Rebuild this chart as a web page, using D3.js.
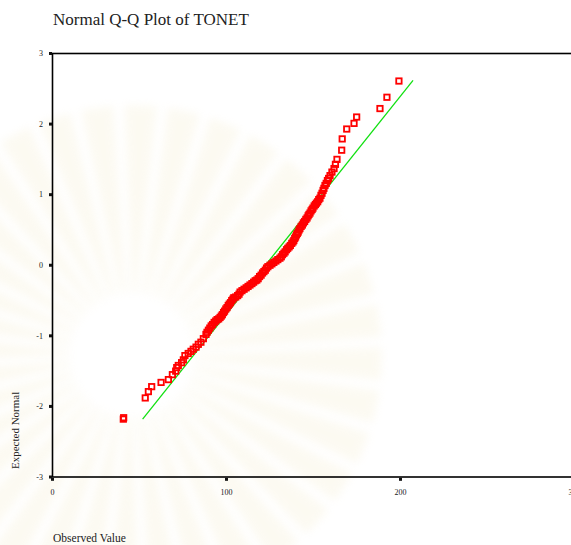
<!DOCTYPE html>
<html>
<head>
<meta charset="utf-8">
<title>Normal Q-Q Plot of TONET</title>
<script src="https://cdn.jsdelivr.net/npm/d3@7"></script>
<style>
  html, body { margin: 0; padding: 0; background: #fff; }
  svg { display: block; font-family: "Liberation Serif", "DejaVu Serif", serif; }
</style>
</head>
<body>
<svg id="chart" width="571" height="545"></svg>
<script>
var observed = [40.7, 40.9,
  53.3, 55.1, 57.0, 62.4, 66.6, 68.9, 70.8, 71.4, 72.3, 74.2, 75.2, 76.1, 78.0, 79.6, 80.9, 82.5, 83.8, 85.3, 86.7, 88.2,
  88.8, 89.6, 90.4, 91.2, 92.0, 92.9, 93.8, 94.6, 95.5, 96.3,
  97.0, 97.6, 98.3, 98.9, 99.6, 100.3, 101.0, 101.6, 102.3, 103.0, 103.7,
  104.2, 105.3, 106.4, 107.2, 107.8,
  108.9, 110.1, 111.3, 112.4, 113.5, 114.6, 115.6, 116.5, 117.4,
  118.2, 119.0, 119.9, 120.7, 121.5, 122.3, 123.0, 123.8, 125.0,
  126.1, 127.2, 128.4, 129.5, 130.7,
  131.5, 132.2, 133.0, 133.7, 134.5, 135.2, 136.0, 136.7, 137.5, 138.2,
  138.7, 139.2, 139.7, 140.2, 140.7, 141.2, 141.7, 142.2,
  142.9, 143.6, 144.2, 144.9, 145.6, 146.3,
  146.9, 147.4, 148.0, 148.6, 149.2, 149.7,
  150.4, 151.1, 151.7, 152.4, 153.0, 153.7,
  154.3, 154.9, 155.5, 156.0, 156.6,
  157.3, 158.0, 158.7, 159.5,
  160.6, 161.8, 162.6, 163.5,
  166.2, 166.5, 169.1, 173.3, 174.8, 188.2, 192.2, 199.1];
var expected = [-2.18, -2.16,
  -1.88, -1.79, -1.72, -1.66, -1.62, -1.55, -1.50, -1.45, -1.42, -1.38, -1.34, -1.28, -1.25, -1.22, -1.19, -1.16, -1.12, -1.09, -1.04, -0.98,
  -0.95, -0.92, -0.89, -0.86, -0.84, -0.81, -0.79, -0.77, -0.76, -0.74,
  -0.72, -0.70, -0.67, -0.65, -0.62, -0.60, -0.57, -0.55, -0.53, -0.50, -0.48,
  -0.46, -0.45, -0.43, -0.41, -0.38,
  -0.36, -0.34, -0.32, -0.30, -0.28, -0.26, -0.24, -0.22, -0.21,
  -0.19, -0.16, -0.14, -0.11, -0.09, -0.07, -0.04, -0.02, 0.00,
  0.02, 0.04, 0.06, 0.08, 0.10,
  0.12, 0.15, 0.17, 0.19, 0.22, 0.24, 0.26, 0.28, 0.31, 0.33,
  0.35, 0.38, 0.40, 0.43, 0.45, 0.47, 0.50, 0.52,
  0.55, 0.57, 0.60, 0.62, 0.65, 0.67,
  0.70, 0.72, 0.74, 0.77, 0.79, 0.81,
  0.84, 0.86, 0.88, 0.90, 0.93, 0.95,
  0.99, 1.02, 1.06, 1.09, 1.13,
  1.16, 1.20, 1.23, 1.27,
  1.32, 1.37, 1.43, 1.50,
  1.63, 1.79, 1.93, 2.01, 2.10, 2.22, 2.38, 2.61];

// reference line ends
var lineObserved = [51.8, 207.2];
var lineExpected = [-2.18, 2.62];

var xTicks = [0, 100, 200, 300];
var yTicks = [-3, -2, -1, 0, 1, 2, 3];

var svg = d3.select("#chart");

var x = d3.scaleLinear().domain([0, 300]).range([52.5, 574.5]);
var y = d3.scaleLinear().domain([-3, 3]).range([477, 53.5]);

// very faint watermark behind the plot
svg.append("defs").append("filter").attr("id", "soft")
    .append("feGaussianBlur").attr("stdDeviation", 4);
var wm = svg.append("g").attr("transform", "translate(132,355)")
    .attr("filter", "url(#soft)").attr("opacity", 0.3);
var rays = d3.range(36);
wm.selectAll("path.ray").data(rays).enter().append("path")
    .attr("class", "ray")
    .attr("d", function(d) {
        var a0 = d / 36 * 2 * Math.PI, a1 = a0 + 0.07;
        var r0 = 62, r1 = 250;
        return "M" + r0 * Math.cos(a0) + "," + r0 * Math.sin(a0) +
            "L" + r1 * Math.cos(a0 - 0.03) + "," + r1 * Math.sin(a0 - 0.03) +
            "L" + r1 * Math.cos(a1 + 0.03) + "," + r1 * Math.sin(a1 + 0.03) +
            "L" + r0 * Math.cos(a1) + "," + r0 * Math.sin(a1) + "Z";
    })
    .attr("fill", "#f6efd4");

// frame (right edge falls outside the picture)
svg.append("rect")
    .attr("x", x(0)).attr("y", y(3))
    .attr("width", x(300) - x(0)).attr("height", y(-3) - y(3))
    .attr("fill", "none").attr("stroke", "#000").attr("stroke-width", 1.6);

// tick squares
svg.selectAll("rect.yt").data(yTicks).enter().append("rect")
    .attr("class", "yt")
    .attr("x", x(0) - 3.5).attr("y", function(d) { return y(d) - 1.5; })
    .attr("width", 3).attr("height", 3).attr("fill", "#111");
svg.selectAll("rect.xt").data(xTicks).enter().append("rect")
    .attr("class", "xt")
    .attr("x", function(d) { return x(d) - 1.5; }).attr("y", y(-3) + 0.8)
    .attr("width", 3).attr("height", 3).attr("fill", "#111");

svg.selectAll("text.yl").data(yTicks).enter().append("text")
    .attr("class", "yl")
    .attr("x", 43).attr("y", function(d) { return y(d) + 2.8; })
    .attr("text-anchor", "end").attr("font-size", 8).attr("fill", "#222")
    .text(function(d) { return d; });
svg.selectAll("text.xl").data(xTicks).enter().append("text")
    .attr("class", "xl")
    .attr("x", function(d) { return x(d); }).attr("y", 494.5)
    .attr("text-anchor", "middle").attr("font-size", 8).attr("fill", "#222")
    .text(function(d) { return d; });

// reference line
svg.append("line")
    .attr("x1", x(lineObserved[0])).attr("y1", y(lineExpected[0]))
    .attr("x2", x(lineObserved[1])).attr("y2", y(lineExpected[1]))
    .attr("stroke", "#10e010").attr("stroke-width", 1.3);

// points
svg.selectAll("rect.pt").data(observed).enter().append("rect")
    .attr("class", "pt")
    .attr("x", function(d) { return x(d) - 2.7; })
    .attr("y", function(d, i) { return y(expected[i]) - 2.7; })
    .attr("width", 5.4).attr("height", 5.4)
    .attr("fill", "none").attr("stroke", "#ff0000").attr("stroke-width", 1.8);

// titles
svg.append("text").attr("x", 53).attr("y", 25)
    .attr("font-size", 17).attr("fill", "#222").text("Normal Q-Q Plot of TONET");
svg.append("text").attr("x", 53).attr("y", 542)
    .attr("font-size", 11.5).attr("fill", "#222").text("Observed Value");
svg.append("text")
    .attr("transform", "translate(19,469) rotate(-90)")
    .attr("font-size", 11).attr("fill", "#222").text("Expected Normal");
</script>
</body>
</html>
